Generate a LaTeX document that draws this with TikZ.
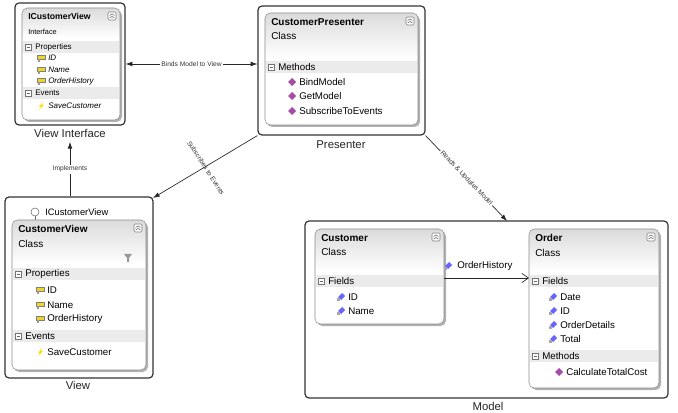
\documentclass[tikz,border=0pt]{standalone}
\usepackage{fontspec}
\setmainfont{Liberation Sans}
\usetikzlibrary{arrows.meta,fit}
\tikzset{
  frame/.style={draw=black!80,line width=0.9pt,rounded corners=3pt,inner sep=0pt},
  conn/.style={draw=black!85,line width=0.5pt},
  lbl/.style={font=\fontsize{5}{6}\selectfont,text=black!80,inner sep=1pt},
  framelabel/.style={font=\fontsize{8.5}{10}\selectfont,text=black!85},
  itm/.style={anchor=west,inner sep=0pt,font=\fontsize{7.3}{8}\selectfont},
}
% x1 y1 x2 y2 headerbottom name kind id
\newcommand\umlbox[8]{%
  \fill[black!30,rounded corners=4pt] (#1+2,#2+2) rectangle (#3+2,#4+2);
  \begin{scope}
    \clip[rounded corners=4pt] (#1,#2) rectangle (#3,#4);
    \fill[white] (#1,#2) rectangle (#3,#4);
    \shade[top color=black!14,bottom color=white] (#1,#2) rectangle (#3,#5);
  \end{scope}
  \node[draw=black!45,rounded corners=4pt,fit={(#1,#2)(#3,#4)},inner sep=0pt] (#8) {};
  \node[anchor=north west,inner sep=0pt,align=left] at (#1+6,#2+5) {#6\\[-1pt]#7};
  \draw[black!50,fill=white,rounded corners=1pt] (#3-12,#2+4) rectangle (#3-4,#2+12);
  \draw[black!60,line width=0.4pt] (#3-10.5,#2+7.5) -- (#3-8,#2+6) -- (#3-5.5,#2+7.5)
       (#3-10.5,#2+10) -- (#3-8,#2+8.5) -- (#3-5.5,#2+10);
}
\newcommand\band[4]{%
  \fill[black!8] (#1+1,#3-6) rectangle (#2-1,#3+6);
  \draw[black!55,fill=white] (#1+3,#3-3) rectangle (#1+9,#3+3);
  \draw[black!60] (#1+4.5,#3) -- (#1+7.5,#3);
  \node[itm] at (#1+13,#3) {#4};
}
\newcommand\ico[3]{% x y type
  \ifcase#3
    \fill[yellow!70!brown] (#1-4,#2-3) rectangle (#1+4,#2+1);
    \draw[black!50,line width=0.3pt] (#1-4,#2-3) rectangle (#1+4,#2+1);
    \fill[black!40] (#1-3,#2+1) rectangle (#1-1,#2+4);
  \or
    \fill[blue!60] (#1+1,#2-4) -- (#1+4,#2-1) -- (#1,#2+3) -- (#1-3,#2) -- cycle;
    \fill[black!35] (#1-4,#2+1) rectangle (#1-1,#2+4);
  \or
    \fill[violet!70] (#1,#2-4) -- (#1+4,#2) -- (#1,#2+4) -- (#1-4,#2) -- cycle;
  \or
    \fill[yellow!80!orange] (#1+2,#2-4) -- (#1-2,#2+1) -- (#1,#2+1) -- (#1-2,#2+4)
      -- (#1+3,#2-1) -- (#1+1,#2-1) -- cycle;
  \fi
}
\newcommand\entry[5]{% x y type text fontcmd
  \ico{#1}{#2}{#3}\node[itm,font=#5] at (#1+7,#2) {#4};
}
\begin{document}
\begin{tikzpicture}[x=0.75pt,y=-0.75pt]
\useasboundingbox (0,0) rectangle (678,413);
\fill[white] (0,0) rectangle (678,413);

% ---------- outer frames
\node[frame,fit={(15,3)(125,125)}] (vi) {};
\node[framelabel] (vil) at (70,133) {View Interface};
\node[frame,fit={(258,6)(425,135)}] (pr) {};
\node[framelabel] (prl) at (341,145) {Presenter};
\node[frame,fit={(5,197)(153,378)}] (vw) {};
\node[framelabel] (vwl) at (78,385) {View};
\node[frame,fit={(305,221)(668,398)}] (md) {};
\node[framelabel] (mdl) at (488,406) {Model};

% ---------- ICustomerView
\umlbox{22}{8}{120}{120}{38}{\fontsize{6.5}{7}\selectfont\bfseries ICustomerView}{\fontsize{5.5}{6}\selectfont Interface}{icv}
\band{22}{120}{47}{\fontsize{6}{7}\selectfont Properties}
\entry{41}{58}{0}{ID}{\fontsize{6}{7}\selectfont\itshape}
\entry{41}{70}{0}{Name}{\fontsize{6}{7}\selectfont\itshape}
\entry{41}{81}{0}{OrderHistory}{\fontsize{6}{7}\selectfont\itshape}
\band{22}{120}{93}{\fontsize{6}{7}\selectfont Events}
\entry{41}{106}{3}{SaveCustomer}{\fontsize{6}{7}\selectfont\itshape}

% ---------- CustomerPresenter
\umlbox{265}{13}{418}{125}{58}{\fontsize{7.5}{8.5}\selectfont\bfseries CustomerPresenter}{\fontsize{7.5}{8.5}\selectfont Class}{cp}
\band{265}{418}{67}{Methods}
\entry{292}{82}{2}{BindModel}{\fontsize{7.3}{8}\selectfont}
\entry{292}{96}{2}{GetModel}{\fontsize{7.3}{8}\selectfont}
\entry{292}{111}{2}{SubscribeToEvents}{\fontsize{7.3}{8}\selectfont}

% ---------- CustomerView
\draw[black!60,fill=white] (35,212) circle (4);
\node[itm,font=\fontsize{7}{8}\selectfont] (lol) at (45,212) {ICustomerView};
\draw[black!60] (35,216) -- (35,220);
\umlbox{12}{220}{146}{370}{264}{\fontsize{7.5}{8.5}\selectfont\bfseries CustomerView}{\fontsize{7.5}{8.5}\selectfont Class}{cv}
\fill[black!40] (124,254) -- (132,254) -- (129,258) -- (129,262) -- (127,262) -- (127,258) -- cycle;
\band{12}{146}{274}{Properties}
\entry{40}{290}{0}{ID}{\fontsize{7.3}{8}\selectfont}
\entry{40}{305}{0}{Name}{\fontsize{7.3}{8}\selectfont}
\entry{40}{319}{0}{OrderHistory}{\fontsize{7.3}{8}\selectfont}
\band{12}{146}{336}{Events}
\entry{40}{352}{3}{SaveCustomer}{\fontsize{7.3}{8}\selectfont}

% ---------- Customer
\umlbox{315}{229}{444}{324}{272}{\fontsize{7.5}{8.5}\selectfont\bfseries Customer}{\fontsize{7.5}{8.5}\selectfont Class}{cu}
\band{315}{444}{281}{Fields}
\entry{341}{297}{1}{ID}{\fontsize{7.3}{8}\selectfont}
\entry{341}{311}{1}{Name}{\fontsize{7.3}{8}\selectfont}

% ---------- Order
\umlbox{529}{229}{659}{388}{272}{\fontsize{7.5}{8.5}\selectfont\bfseries Order}{\fontsize{7.5}{8.5}\selectfont Class}{od}
\band{529}{659}{281}{Fields}
\entry{553}{297}{1}{Date}{\fontsize{7.3}{8}\selectfont}
\entry{553}{311}{1}{ID}{\fontsize{7.3}{8}\selectfont}
\entry{553}{325}{1}{OrderDetails}{\fontsize{7.3}{8}\selectfont}
\entry{553}{339}{1}{Total}{\fontsize{7.3}{8}\selectfont}
\band{529}{659}{356}{Methods}
\entry{559}{372}{2}{CalculateTotalCost}{\fontsize{7.3}{8}\selectfont}

% ---------- connectors
\coordinate (chs) at (444,278);
\coordinate (odt) at (529,278);
\draw[conn,-{Straight Barb[length=5pt,width=7pt]}] (chs) -- (odt);
\ico{448}{266}{1}
\node[itm,font=\fontsize{7.3}{8}\selectfont] at (457,266) {OrderHistory};

\draw[conn,{Latex[length=5pt,width=3.5pt]}-{Latex[length=5pt,width=3.5pt]}]
  (vi.east) -- node[lbl,fill=white] {Binds Model to View} (vi.east -| pr.west);
\draw[conn,-{Latex[length=5pt,width=3.5pt]}]
  (vw.north -| vi.south) -- node[lbl,fill=white] {Implements} (vil.south);
\coordinate (vwt) at (153,198);
\draw[conn,-{Latex[length=5pt,width=3.5pt]}] (pr.south west) -- (vwt);
\node[lbl,rotate=-57] at (206,168) {Subscribes to Events};
\coordinate (mdt) at (507,221);
\draw[conn,-{Latex[length=5pt,width=3.5pt]}]
  (pr.south east) -- node[lbl,fill=white,sloped] {Reads \& Updates Model} (mdt);
\end{tikzpicture}
\end{document}
